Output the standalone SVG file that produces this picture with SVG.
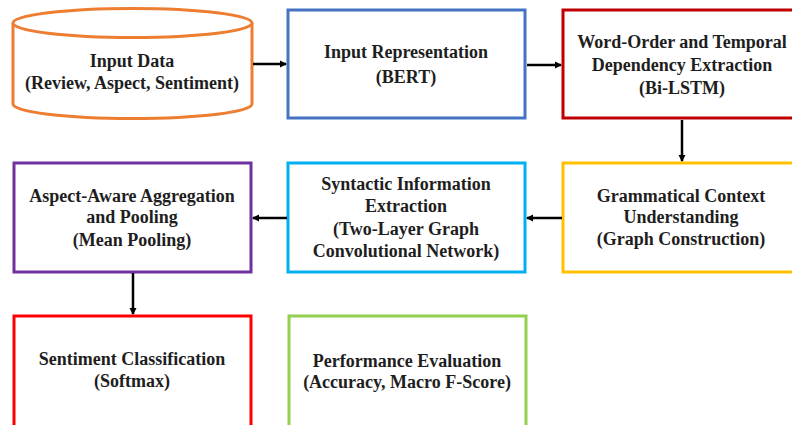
<svg xmlns="http://www.w3.org/2000/svg" width="792" height="425" viewBox="0 0 792 425">
<style>
text{font-family:"Liberation Serif","Times New Roman",serif;font-weight:bold;font-size:18px;fill:#1e1e1e;text-anchor:middle}
.box{fill:#fff;stroke-width:3}
.conn line{stroke:#000;stroke-width:2.5;marker-end:url(#ah)}
</style>
<defs>
<marker id="ah" markerWidth="8" markerHeight="8" refX="6" refY="4" orient="auto" markerUnits="userSpaceOnUse">
<path d="M0,0.5 L7,4 L0,7.5 Z" fill="#000"/>
</marker>
</defs>
<rect width="792" height="425" fill="#fff"/>
<g id="input-data">
<path class="box" stroke="#ED7D31" d="M13,23 L13,104 A119.5,14.5 0 0 0 252,104 L252,23"/>
<ellipse class="box" stroke="#ED7D31" cx="132.5" cy="23" rx="119.5" ry="14.5"/>
<text x="132" y="67">Input Data</text>
<text x="132" y="89">(Review, Aspect, Sentiment)</text>
</g>
<g id="input-representation">
<rect class="box" stroke="#4472C4" x="288" y="10" width="237" height="108"/>
<text x="406" y="58">Input Representation</text>
<text x="406" y="83">(BERT)</text>
</g>
<g id="word-order">
<rect class="box" stroke="#C00000" x="563" y="10" width="240" height="108"/>
<text x="682" y="48">Word-Order and Temporal</text>
<text x="682" y="71">Dependency Extraction</text>
<text x="682" y="94">(Bi-LSTM)</text>
</g>
<g id="grammatical-context">
<rect class="box" stroke="#FFC000" x="563" y="163" width="240" height="109"/>
<text x="681" y="202">Grammatical Context</text>
<text x="681" y="223">Understanding</text>
<text x="681" y="245">(Graph Construction)</text>
</g>
<g id="syntactic-info">
<rect class="box" stroke="#00B0F0" x="288" y="163" width="237" height="109"/>
<text x="406" y="190">Syntactic Information</text>
<text x="406" y="212">Extraction</text>
<text x="406" y="235">(Two-Layer Graph</text>
<text x="406" y="257">Convolutional Network)</text>
</g>
<g id="aspect-aware">
<rect class="box" stroke="#7030A0" x="14" y="163" width="237" height="109"/>
<text x="132" y="202">Aspect-Aware Aggregation</text>
<text x="132" y="223">and Pooling</text>
<text x="132" y="246">(Mean Pooling)</text>
</g>
<g id="sentiment-classification">
<rect class="box" stroke="#FF0000" x="14" y="316" width="237" height="120"/>
<text x="132" y="365">Sentiment Classification</text>
<text x="132" y="387">(Softmax)</text>
</g>
<g id="performance-evaluation">
<rect class="box" stroke="#92D050" x="289" y="316" width="237" height="120"/>
<text x="407" y="367">Performance Evaluation</text>
<text x="407" y="388">(Accuracy, Macro F-Score)</text>
</g>
<g class="conn" id="connectors">
<line x1="253" y1="64" x2="286" y2="64"/>
<line x1="527" y1="65" x2="561" y2="65"/>
<line x1="682" y1="120" x2="682" y2="161"/>
<line x1="562" y1="218" x2="527" y2="218"/>
<line x1="287" y1="218" x2="253" y2="218"/>
<line x1="133" y1="273" x2="133" y2="314"/>
</g>
</svg>
